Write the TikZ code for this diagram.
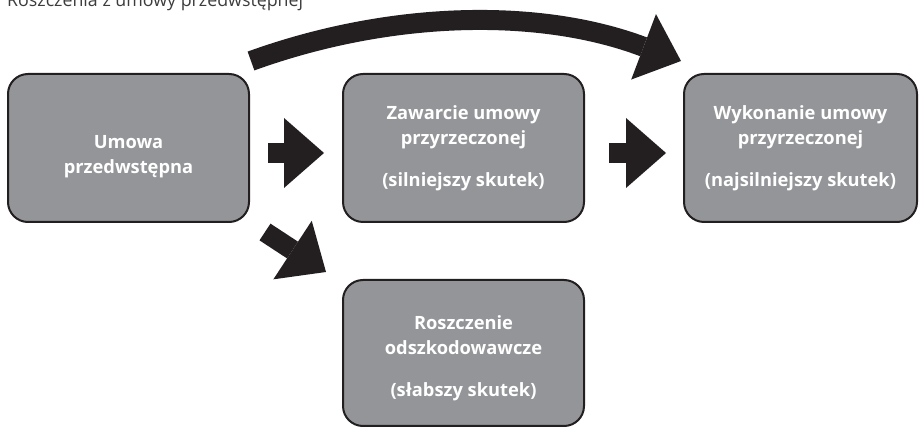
\documentclass[tikz,border=0pt]{standalone}
\usepackage{fontspec}
\setmainfont{Open Sans}
\usetikzlibrary{arrows.meta}
\definecolor{boxgray}{HTML}{939598}
\definecolor{ink}{HTML}{231F20}
\definecolor{titlegray}{HTML}{3C3C3C}
\newcommand{\toplift}[1]{\rule{0pt}{#1}}
\begin{document}
\begin{tikzpicture}[x=1pt,y=-1pt,
  box/.style={draw=ink, line width=2pt, fill=boxgray, rounded corners=20pt,
    minimum width=241pt, minimum height=148pt, inner sep=0pt, text=white,
    font=\fontsize{18.3}{25.5}\selectfont\bfseries, align=center},
  blockarrow/.style={draw=ink, line width=20pt,
    -{Triangle[length=40pt,width=70pt,line width=0pt]}},
]
\useasboundingbox (0,0) rectangle (919,427);

\node[anchor=base west, inner sep=0pt, text=titlegray,
  font=\fontsize{17.8}{21}\selectfont] (title) at (7,7) {Roszczenia z umowy przedwstępnej};

\node[box] (b1) at (128.5,148) {\toplift{30pt}Umowa\\przedwstępna};
\node[box] (b2) at (463.5,148) {Zawarcie umowy\\przyrzeczonej\\[16pt](silniejszy skutek)};
\node[box, minimum width=233pt] (b3) at (800.5,148) {Wykonanie umowy\\przyrzeczonej\\[16pt](najsilniejszy skutek)};
\node[box, minimum height=146pt] (b4) at (463.5,353) {\toplift{24pt}Roszczenie\\odszkodowawcze\\[16pt](słabszy skutek)};

\draw[blockarrow] ([shift={(18,5)}]b1.east) -- ([shift={(-18,5)}]b2.west);
\draw[blockarrow] ([shift={(24,5)}]b2.east) -- ([shift={(-17,5)}]b3.west);
\draw[blockarrow] ([shift={(15,9)}]b1.south east) -- ([shift={(-16,-7)}]b4.north west);
\draw[blockarrow] ([shift={(1,-12)}]b1.north east)
  .. controls +(141,-51) and +(-140,-53) .. ([shift={(-2,-12)}]b3.north west);
\end{tikzpicture}
\end{document}
